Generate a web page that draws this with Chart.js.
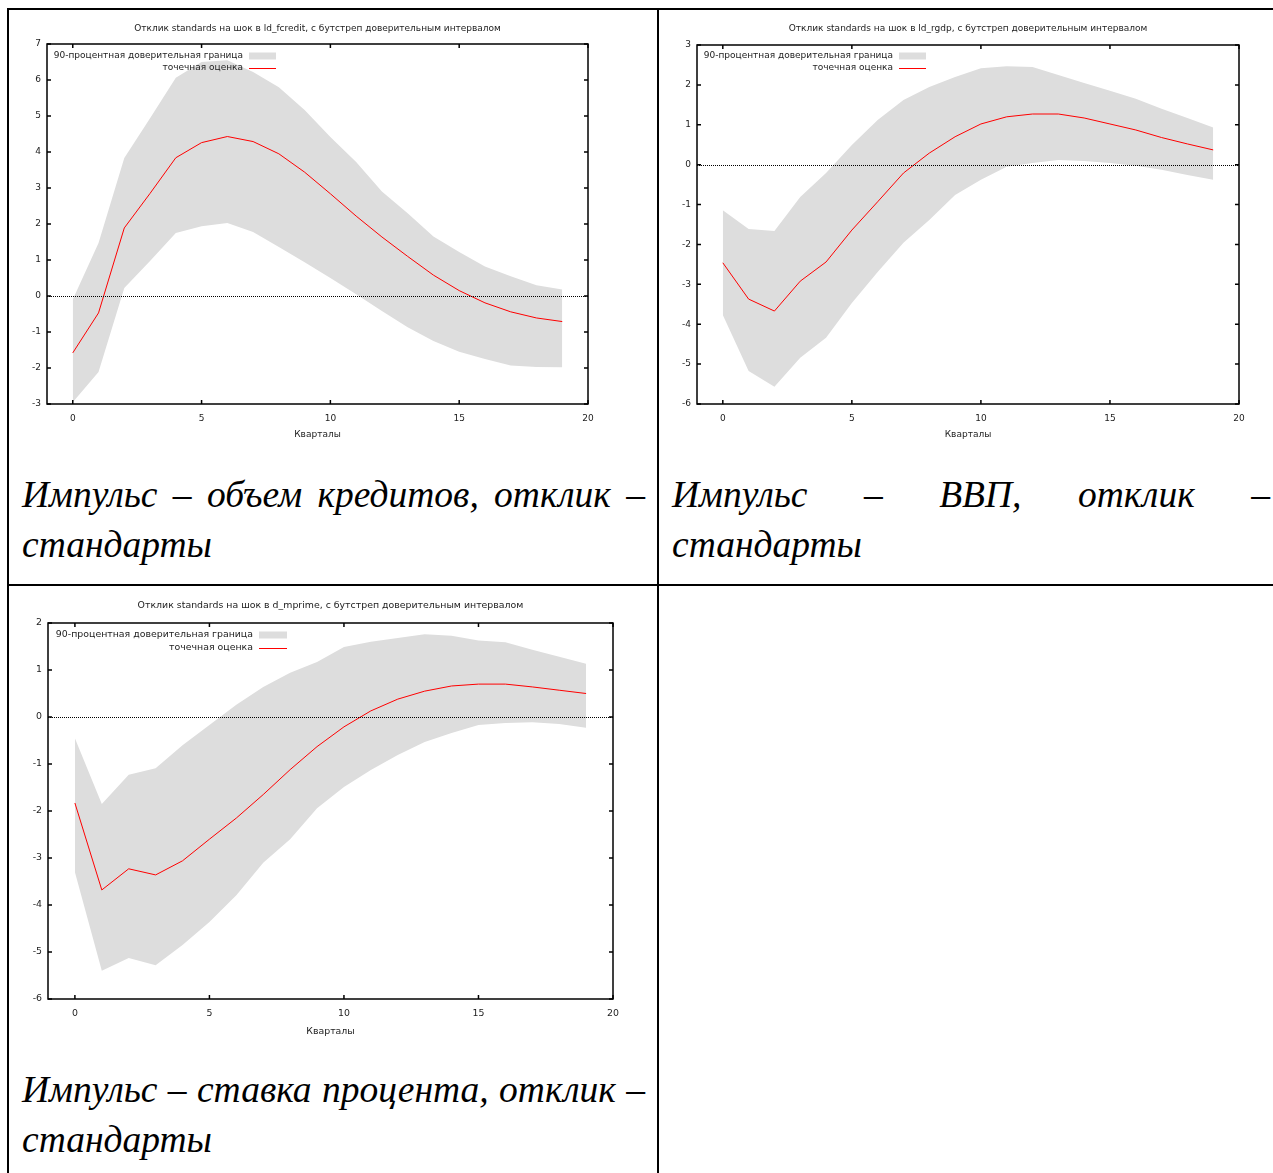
<!DOCTYPE html>
<html>
<head>
<meta charset="utf-8">
<script src="https://cdn.jsdelivr.net/npm/chart.js@4.4.0/dist/chart.umd.min.js"></script>
<style>
body { margin: 0; background: #fff; width: 1273px; height: 1173px; overflow: hidden; position: relative; }
.rule { position: absolute; background: #000; }
.plot { position: absolute; }
.cap { position: absolute; font-family: "Liberation Serif", serif; font-style: italic; font-size: 37.5px; line-height: 50px; text-align: justify; color: #000; }
</style>
</head>
<body>
<div class="rule" style="left:7px;top:8px;width:1266px;height:2px"></div>
<div class="rule" style="left:7px;top:8px;width:2px;height:1165px"></div>
<div class="rule" style="left:657px;top:8px;width:2px;height:1165px"></div>
<div class="rule" style="left:7px;top:584px;width:1266px;height:2px"></div>

<canvas id="c1" class="plot" width="640" height="440" style="left:10px;top:10px"></canvas>
<canvas id="c2" class="plot" width="613" height="440" style="left:660px;top:10px"></canvas>
<canvas id="c3" class="plot" width="645" height="460" style="left:10px;top:588px"></canvas>

<div class="cap" style="left:22px;top:470px;width:623px">Импульс – объем кредитов, отклик – стандарты</div>
<div class="cap" style="left:672px;top:470px;width:598px">Импульс – ВВП, отклик – стандарты</div>
<div class="cap" style="left:22px;top:1065px;width:623px">Импульс – ставка процента, отклик – стандарты</div>

<script>
const quarters = [0, 1, 2, 3, 4, 5, 6, 7, 8, 9, 10, 11, 12, 13, 14, 15, 16, 17, 18, 19];
const xTicks = [0, 5, 10, 15, 20];

// shock in ld_fcredit
const creditMid = [-1.58, -0.47, 1.89, 2.85, 3.84, 4.26, 4.43, 4.29, 3.95, 3.44, 2.84, 2.22, 1.64, 1.1, 0.58, 0.15, -0.19, -0.44, -0.61, -0.71];
const creditHi = [-0.1, 1.47, 3.83, 4.94, 6.06, 6.5, 6.55, 6.22, 5.8, 5.17, 4.42, 3.72, 2.9, 2.3, 1.65, 1.22, 0.82, 0.55, 0.3, 0.18];
const creditLo = [-2.95, -2.11, 0.22, 0.97, 1.75, 1.94, 2.03, 1.78, 1.36, 0.94, 0.5, 0.05, -0.42, -0.87, -1.25, -1.55, -1.75, -1.93, -1.97, -1.98];

// shock in ld_rgdp
const gdpMid = [-2.46, -3.37, -3.67, -2.92, -2.44, -1.64, -0.93, -0.21, 0.29, 0.7, 1.02, 1.2, 1.27, 1.27, 1.17, 1.02, 0.87, 0.68, 0.52, 0.37];
const gdpHi = [-1.14, -1.61, -1.66, -0.81, -0.21, 0.49, 1.12, 1.62, 1.95, 2.2, 2.42, 2.47, 2.45, 2.25, 2.05, 1.85, 1.65, 1.4, 1.17, 0.93];
const gdpLo = [-3.77, -5.17, -5.57, -4.84, -4.34, -3.47, -2.69, -1.96, -1.39, -0.76, -0.38, -0.05, 0.04, 0.12, 0.09, 0.04, -0.03, -0.13, -0.26, -0.38];

// shock in d_mprime
const rateMid = [-1.83, -3.68, -3.23, -3.36, -3.06, -2.6, -2.15, -1.65, -1.12, -0.63, -0.21, 0.13, 0.38, 0.55, 0.66, 0.7, 0.7, 0.64, 0.57, 0.5];
const rateHi = [-0.45, -1.85, -1.23, -1.09, -0.6, -0.17, 0.26, 0.64, 0.94, 1.17, 1.49, 1.6, 1.68, 1.76, 1.73, 1.63, 1.59, 1.43, 1.28, 1.13];
const rateLo = [-3.3, -5.4, -5.13, -5.28, -4.85, -4.36, -3.79, -3.1, -2.6, -1.94, -1.49, -1.13, -0.81, -0.53, -0.34, -0.17, -0.13, -0.11, -0.15, -0.23];

const bandLabel = '90-процентная доверительная граница';
const midLabel = 'точечная оценка';
const xLabel = 'Кварталы';
const FONT = 'DejaVu Sans';
const TEXT = '#222';

// zero line, closed frame with inward ticks (gnuplot look)
const framePlugin = {
    id: 'frame',
    afterDatasetsDraw(chart) {
        const {ctx, chartArea: a, scales: {x, y}} = chart;
        ctx.save();
        const y0 = Math.round(y.getPixelForValue(0)) + 0.5;
        ctx.strokeStyle = '#000';
        ctx.lineWidth = 1;
        ctx.setLineDash([1, 1]);
        ctx.beginPath();
        ctx.moveTo(a.left, y0);
        ctx.lineTo(a.right, y0);
        ctx.stroke();
        ctx.setLineDash([]);

        ctx.lineWidth = 1.5;
        ctx.strokeRect(a.left, a.top, a.right - a.left, a.bottom - a.top);
        ctx.beginPath();
        x.ticks.forEach(t => {
            const px = x.getPixelForValue(t.value);
            ctx.moveTo(px, a.bottom); ctx.lineTo(px, a.bottom - 4);
            ctx.moveTo(px, a.top); ctx.lineTo(px, a.top + 4);
        });
        y.ticks.forEach(t => {
            const py = y.getPixelForValue(t.value);
            ctx.moveTo(a.left, py); ctx.lineTo(a.left + 4, py);
            ctx.moveTo(a.right, py); ctx.lineTo(a.right - 4, py);
        });
        ctx.stroke();
        ctx.restore();
    }
};

// key in the upper left corner: text right aligned, sample on its right
const keyPlugin = {
    id: 'key',
    afterDraw(chart, args, opts) {
        const {ctx, chartArea: a} = chart;
        const band = chart.data.datasets[0];
        const mid = chart.data.datasets[2];
        const textRight = a.left + opts.textRight;
        ctx.save();
        ctx.font = opts.size + 'px "' + FONT + '"';
        ctx.fillStyle = TEXT;
        ctx.textAlign = 'right';
        ctx.textBaseline = 'middle';
        ctx.fillText(band.label, textRight, a.top + opts.row1);
        ctx.fillText(mid.label, textRight, a.top + opts.row2);
        const sx = textRight + opts.gap;
        ctx.fillStyle = band.backgroundColor;
        ctx.fillRect(sx, a.top + opts.row1 - 3.5, opts.sample, 7);
        ctx.strokeStyle = mid.borderColor;
        ctx.lineWidth = 1;
        ctx.beginPath();
        ctx.moveTo(sx, Math.round(a.top + opts.row2) + 0.5);
        ctx.lineTo(sx + opts.sample, Math.round(a.top + opts.row2) + 0.5);
        ctx.stroke();
        ctx.restore();
    }
};

function pts(arr) {
    return quarters.map((q, i) => ({x: q, y: arr[i]}));
}

// g: chart area inside the canvas, title centre, tick/title offsets, font size
function irfChart(id, title, hi, lo, mid, yMin, yMax, g) {
    const canvas = document.getElementById(id);
    const W = canvas.width, H = canvas.height;
    new Chart(canvas.getContext('2d'), {
        type: 'line',
        data: {
            datasets: [
                {label: bandLabel, data: pts(hi), fill: '+1', backgroundColor: '#dddddd', borderWidth: 0, pointRadius: 0, order: 2},
                {label: '', data: pts(lo), fill: false, borderWidth: 0, pointRadius: 0, order: 2},
                {label: midLabel, data: pts(mid), fill: false, borderColor: '#ff0000', borderWidth: 1, pointRadius: 0, tension: 0, order: 0}
            ]
        },
        options: {
            responsive: false,
            animation: false,
            layout: {padding: {left: 0, top: 0, right: W - g.right, bottom: 0}},
            plugins: {
                legend: {display: false},
                tooltip: {enabled: false},
                title: {
                    display: true,
                    fullSize: false,
                    text: title,
                    color: TEXT,
                    font: {family: FONT, size: g.size, weight: 'normal', lineHeight: 1},
                    padding: {top: g.titleY - g.size / 2, bottom: g.top - g.titleY - g.size / 2}
                },
                key: {textRight: g.keyRight, gap: g.keyGap, sample: g.keySample, row1: g.row1, row2: g.row2, size: g.size}
            },
            scales: {
                x: {
                    type: 'linear',
                    min: -1,
                    max: 20,
                    afterBuildTicks: s => { s.ticks = xTicks.map(v => ({value: v})); },
                    afterFit: s => { s.height = H - g.bottom; },
                    grid: {display: false, drawTicks: false},
                    border: {display: false},
                    ticks: {color: TEXT, font: {family: FONT, size: g.size}, padding: g.tickPad, maxRotation: 0},
                    title: {
                        display: true,
                        text: xLabel,
                        color: TEXT,
                        font: {family: FONT, size: g.size, lineHeight: 1},
                        padding: {top: 0, bottom: H - g.xTitleY - g.size / 2}
                    }
                },
                y: {
                    min: yMin,
                    max: yMax,
                    afterFit: s => { s.width = g.left; },
                    grid: {display: false, drawTicks: false},
                    border: {display: false},
                    ticks: {stepSize: 1, color: TEXT, font: {family: FONT, size: g.size}, padding: 6}
                }
            }
        },
        plugins: [framePlugin, keyPlugin]
    });
}

irfChart('c1', 'Отклик standards на шок в ld_fcredit, с бутстреп доверительным интервалом',
    creditHi, creditLo, creditMid, -3, 7,
    {left: 37, top: 34, right: 578, bottom: 394, titleY: 18.5, xTitleY: 425, tickPad: 9,
     size: 9, keyRight: 196, keyGap: 6, keySample: 27, row1: 12, row2: 24});

irfChart('c2', 'Отклик standards на шок в ld_rgdp, с бутстреп доверительным интервалом',
    gdpHi, gdpLo, gdpMid, -6, 3,
    {left: 37, top: 35, right: 579, bottom: 394, titleY: 18.5, xTitleY: 425, tickPad: 9,
     size: 9, keyRight: 196, keyGap: 6, keySample: 27, row1: 11, row2: 23});

irfChart('c3', 'Отклик standards на шок в d_mprime, с бутстреп доверительным интервалом',
    rateHi, rateLo, rateMid, -6, 2,
    {left: 38, top: 35, right: 603, bottom: 411, titleY: 18, xTitleY: 444, tickPad: 9,
     size: 9.4, keyRight: 205, keyGap: 6, keySample: 28, row1: 12, row2: 25});
</script>
</body>
</html>
